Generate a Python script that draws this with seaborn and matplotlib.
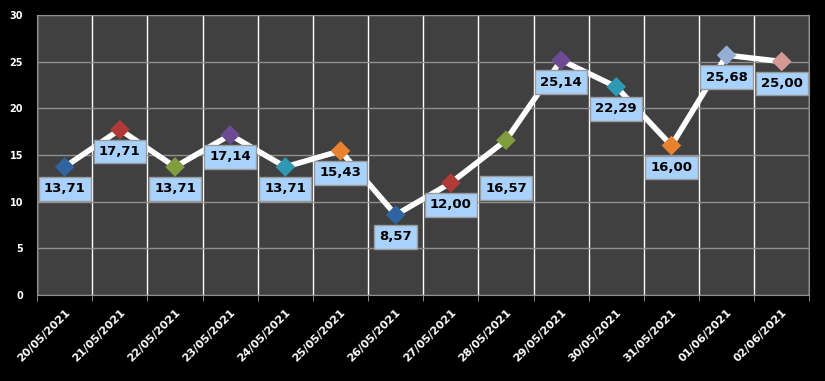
import matplotlib
matplotlib.use('Agg')
import matplotlib.pyplot as plt
import seaborn as sns
import pandas as pd
import numpy as np

dates = ['20/05/2021', '21/05/2021', '22/05/2021', '23/05/2021', '24/05/2021',
         '25/05/2021', '26/05/2021', '27/05/2021', '28/05/2021', '29/05/2021',
         '30/05/2021', '31/05/2021', '01/06/2021', '02/06/2021']
values = [13.71, 17.71, 13.71, 17.14, 13.71, 15.43, 8.57, 12.00, 16.57, 25.14,
          22.29, 16.00, 25.68, 25.00]
marker_colors = ['#2f64a0', '#b03a37', '#7f9c3e', '#6a4b94', '#2f98b4', '#e9822f',
                 '#2f64a0', '#b03a37', '#7f9c3e', '#6a4b94', '#2f98b4', '#e9822f',
                 '#95afd4', '#d49995']
label_offsets = [22, 22, 22, 22, 22, 22, 22, 22, 48, 22, 22, 22, 22, 22]

df = pd.DataFrame({'date': dates, 'value': values, 'pos': np.arange(len(dates))})

sns.set_style('dark')
plt.rcParams['font.family'] = ['DejaVu Sans']

fig = plt.figure(figsize=(8.25, 3.81), dpi=100, facecolor='black')
ax = fig.add_axes([0.045, 0.226, 0.936, 0.735])
ax.set_facecolor('#404040')

sns.lineplot(data=df, x='pos', y='value', color='white', lw=4, ax=ax, zorder=3)
sns.scatterplot(data=df, x='pos', y='value', hue='date', palette=marker_colors,
                marker='D', s=100, edgecolor='none', legend=False, ax=ax, zorder=4)

for p, v, off in zip(df['pos'], values, label_offsets):
    ax.annotate(f'{v:.2f}'.replace('.', ','), (p, v), xytext=(0, -off),
                textcoords='offset pixels', ha='center', va='center',
                fontsize=9.5, fontweight='bold', color='black', zorder=5,
                bbox=dict(boxstyle='square,pad=0.4', fc='#a8d2fb', ec='#9a9a9a', lw=1))

ax.set_xlim(-0.5, len(dates) - 0.5)
ax.set_ylim(0, 30)
ax.set_yticks(range(0, 31, 5))
ax.set_xticks(df['pos'])
ax.set_xticklabels(dates, rotation=45, ha='right', rotation_mode='anchor')
ax.set_xticks(np.arange(-0.5, len(dates), 1), minor=True)
ax.tick_params(axis='x', which='major', length=0, pad=9, colors='white', labelsize=8)
ax.tick_params(axis='x', which='minor', length=4, color='#a0a0a0', bottom=True)
ax.tick_params(axis='y', length=0, colors='white', labelsize=7, pad=10)
for lbl in ax.get_xticklabels() + ax.get_yticklabels():
    lbl.set_fontweight('bold')

ax.grid(False)
ax.grid(axis='x', which='minor', color='white', lw=1)
ax.grid(axis='y', which='major', color='#909090', lw=1)
ax.set_axisbelow(True)
for side in ['top', 'right', 'left', 'bottom']:
    ax.spines[side].set_visible(True)
    ax.spines[side].set_color('#909090')
ax.set_xlabel('')
ax.set_ylabel('')

fig.savefig('out.png', dpi=100, facecolor='black')
